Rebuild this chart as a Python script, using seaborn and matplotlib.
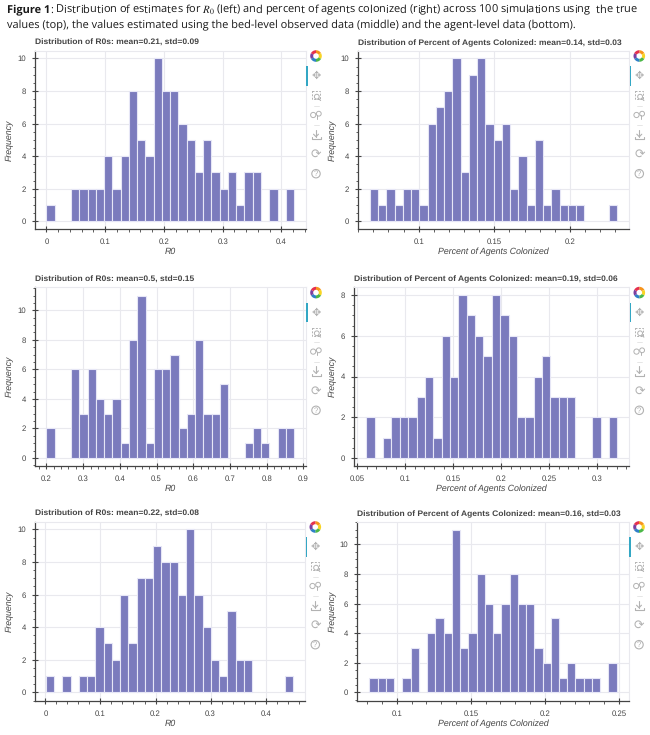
import numpy as np
import matplotlib
matplotlib.use("Agg")
import matplotlib.pyplot as plt
from matplotlib.patches import Wedge, Circle, Rectangle
from matplotlib.ticker import MultipleLocator, FuncFormatter
import seaborn as sns

# Histogram counts per bin (30 bins) for each simulation summary
r0_true = [1,0,0,2,2,2,2,4,2,4,8,5,4,10,8,8,6,5,3,5,3,2,3,1,3,3,0,2,0,2]
pct_true = [2,1,2,1,2,2,1,6,7,8,10,3,9,10,6,5,6,2,4,1,5,1,2,1,1,1,0,0,0,1]
r0_bed = [2,0,0,6,3,6,4,3,4,1,8,11,1,6,6,7,2,3,8,3,3,5,0,0,1,2,1,0,2,2]
pct_bed = [2,0,1,2,2,2,3,4,1,6,4,8,7,6,5,8,7,6,2,2,4,5,3,3,3,0,0,2,0,2]
r0_agent = [1,0,1,0,1,1,4,3,2,6,3,7,7,9,8,8,6,10,6,4,2,1,5,2,2,0,0,0,0,1]
pct_agent = [1,1,1,0,1,3,0,4,5,4,11,3,4,8,6,4,6,8,6,6,3,2,5,1,2,1,1,1,0,2]

# First and last bin edge of each histogram
r0_true_range = (0.0, 0.4216)
pct_true_range = (0.0678, 0.2313)
r0_bed_range = (0.2, 0.8746)
pct_bed_range = (0.0597, 0.3208)
r0_agent_range = (0.001, 0.4503)
pct_agent_range = (0.0816, 0.2484)

r0_title = "Distribution of R0s: mean={}, std={}"
pct_title = "Distribution of Percent of Agents Colonized: mean={}, std={}"
r0_label = "R0"
pct_label = "Percent of Agents Colonized"

W, H = 650, 735
sns.set_theme(style="white")
plt.rcParams["font.family"] = ["Liberation Sans", "DejaVu Sans"]
plt.rcParams["mathtext.fontset"] = "stix"
plt.rcParams["text.hinting"] = "no_hinting"
plt.rcParams["text.hinting_factor"] = 8

INK = "#444444"
GRID = "#e9e9ee"
ICON = "#b2b2b2"

fig = plt.figure(figsize=(W / 100, H / 100), dpi=100, facecolor="white")

# Full-figure layer in pixel units for the header and the plot toolbars
layer = fig.add_axes([0, 0, 1, 1], zorder=5)
layer.set_xlim(0, W)
layer.set_ylim(H, 0)
layer.axis("off")
layer.patch.set_alpha(0)


def add_axes_px(left, top, right, bottom):
    return fig.add_axes([left / W, 1 - bottom / H, (right - left) / W, (bottom - top) / H])


def draw_toolbar(right, top):
    cx = right + 10
    colors = ["#f7941d", "#f9d423", "#4cb848", "#2f80c8", "#7b3fa0", "#e5304f"]
    for i, c in enumerate(colors):
        layer.add_patch(Wedge((cx, top + 5.3), 5.8, i * 60 - 90, (i + 1) * 60 - 90,
                              width=3.0, facecolor=c, edgecolor="none"))
    layer.add_patch(Rectangle((right + 0.3, top + 15.3), 1.2, 19.5, facecolor="#33a7c4", edgecolor="none"))
    layer.text(cx, top + 25.3, "\u2725", fontsize=8, color=ICON, ha="center", va="center",
               family="DejaVu Sans")
    # box zoom
    layer.add_patch(Rectangle((cx - 4.5, top + 40.5), 8, 8, fill=False, edgecolor=ICON, lw=0.7, ls=(0, (2, 1.5))))
    layer.add_patch(Circle((cx + 0.8, top + 46), 2.4, facecolor="white", edgecolor=ICON, lw=0.7))
    layer.plot([cx + 2.5, cx + 4.6], [top + 47.8, top + 49.8], color=ICON, lw=0.8)
    # wheel zoom
    layer.add_patch(Circle((cx - 2.8, top + 64.3), 2.6, fill=False, edgecolor=ICON, lw=0.7))
    layer.add_patch(Circle((cx + 2.8, top + 63), 2.4, fill=False, edgecolor=ICON, lw=0.7))
    layer.plot([cx + 1.2, cx + 1.2], [top + 64.5, top + 68], color=ICON, lw=0.7)
    # save
    layer.plot([cx, cx], [top + 79, top + 86], color=ICON, lw=0.8)
    layer.plot([cx - 2.5, cx, cx + 2.5], [top + 83.5, top + 86, top + 83.5], color=ICON, lw=0.8)
    layer.plot([cx - 4.5, cx - 4.5, cx + 4.5, cx + 4.5], [top + 86.5, top + 88.5, top + 88.5, top + 86.5], color=ICON, lw=0.8)
    # reset
    layer.text(cx, top + 103.4, "\u27f3", fontsize=9, color=ICON, ha="center", va="center",
               family="DejaVu Sans")
    # help
    layer.add_patch(Circle((cx, top + 123), 4.2, fill=False, edgecolor=ICON, lw=0.8))
    layer.text(cx, top + 123.2, "?", fontsize=5.5, color=ICON, ha="center", va="center")
    # separators between tool groups
    for y in (top + 55, top + 74.5):
        layer.plot([cx - 2.5, cx + 2.5], [y, y], color="#e2e2e2", lw=0.6)


def draw_panel(box, counts, edges_range, ylim, xstep, xminor, xlabel, title, xlim):
    left, top, right, bottom = box
    ax = add_axes_px(left, top, right, bottom)
    n_bins = len(counts)
    edges = np.linspace(edges_range[0], edges_range[1], n_bins + 1)
    centers = (edges[:-1] + edges[1:]) / 2
    sns.histplot(x=centers, weights=counts, bins=n_bins, binrange=edges_range, ax=ax,
                 color="#7b7bbd", alpha=1, edgecolor="#e6e6f6", linewidth=0.8, zorder=3)
    for bar in ax.patches:
        if bar.get_height() == 0:
            bar.set_visible(False)

    ax.set_xlim(*xlim)
    ax.set_ylim(*ylim)
    ax.xaxis.set_major_locator(MultipleLocator(xstep))
    ax.xaxis.set_minor_locator(MultipleLocator(xminor))
    ax.yaxis.set_major_locator(MultipleLocator(2))
    ax.yaxis.set_minor_locator(MultipleLocator(0.5))
    ax.xaxis.set_major_formatter(FuncFormatter(lambda v, _: f"{v:g}"))
    ax.grid(True, which="major", color=GRID, lw=0.8, zorder=0)
    ax.set_axisbelow(True)

    for side in ("top", "right"):
        ax.spines[side].set_color(GRID)
        ax.spines[side].set_linewidth(0.8)
    for side in ("left", "bottom"):
        ax.spines[side].set_color(INK)
        ax.spines[side].set_linewidth(0.9)
    ax.tick_params(which="major", direction="inout", length=4.5, width=0.8, color=INK,
                   labelsize=5.6, labelcolor=INK, pad=4, bottom=True, left=True)
    ax.tick_params(which="minor", direction="out", length=1.8, width=0.6, color=INK,
                   bottom=True, left=True)

    ax.set_title(title, loc="left", fontsize=6.1, fontweight="bold", color=INK, pad=4.2)
    ax.set_xlabel(xlabel, fontsize=6.3, style="italic", color=INK, va="center")
    ax.set_ylabel("Frequency", fontsize=6.3, style="italic", color=INK, va="center")
    height = bottom - top
    width = right - left
    ax.xaxis.set_label_coords(0.5, -22.5 / height)
    ax.yaxis.set_label_coords(-(left - (10 if left < 100 else 332.5)) / width, 0.5)
    draw_toolbar(right, top)
    return ax


draw_panel((34.7, 50.7, 306, 229.3), r0_true, r0_true_range, (-0.49, 10.47), 0.1, 0.02,
           r0_label, r0_title.format(0.21, 0.09), (-0.0199, 0.442))
draw_panel((357.7, 50.7, 629.3, 229.3), pct_true, pct_true_range, (-0.49, 10.47), 0.05, 0.01,
           pct_label, pct_title.format(0.14, 0.03), (0.0597, 0.2392))
draw_panel((34.7, 287.3, 306, 466), r0_bed, r0_bed_range, (-0.54, 11.56), 0.1, 0.02,
           r0_label, r0_title.format(0.5, 0.15), (0.168, 0.907))
draw_panel((353.7, 287.3, 629.3, 466), pct_bed, pct_bed_range, (-0.39, 8.38), 0.05, 0.01,
           pct_label, pct_title.format(0.19, 0.06), (0.0465, 0.3333))
draw_panel((34.7, 521.7, 305.3, 701), r0_agent, r0_agent_range, (-0.53, 10.47), 0.1, 0.02,
           r0_label, r0_title.format(0.22, 0.08), (-0.0194, 0.472))
draw_panel((357, 521.7, 629, 701), pct_agent, pct_agent_range, (-0.58, 11.53), 0.05, 0.01,
           pct_label, pct_title.format(0.16, 0.03), (0.0732, 0.2567))

# Two-line caption with a bold lead-in
HEAD = dict(fontsize=7.95, color="#1a1a1a", family=["Open Sans", "DejaVu Sans"], va="center")
lead = layer.text(7, 10, "Figure 1", fontweight="bold", **HEAD)
fig.canvas.draw()
end_px = lead.get_window_extent().x1
layer.text(end_px, 10,
           r": Distribution of estimates for $R_0$ (left) and percent of agents colonized (right)"
           " across 100 simulations using  the true", **HEAD)
layer.text(7, 25,
           "values (top), the values estimated using the bed-level observed data (middle)"
           " and the agent-level data (bottom).", **HEAD)

fig.savefig("out.png", dpi=100, facecolor="white")
